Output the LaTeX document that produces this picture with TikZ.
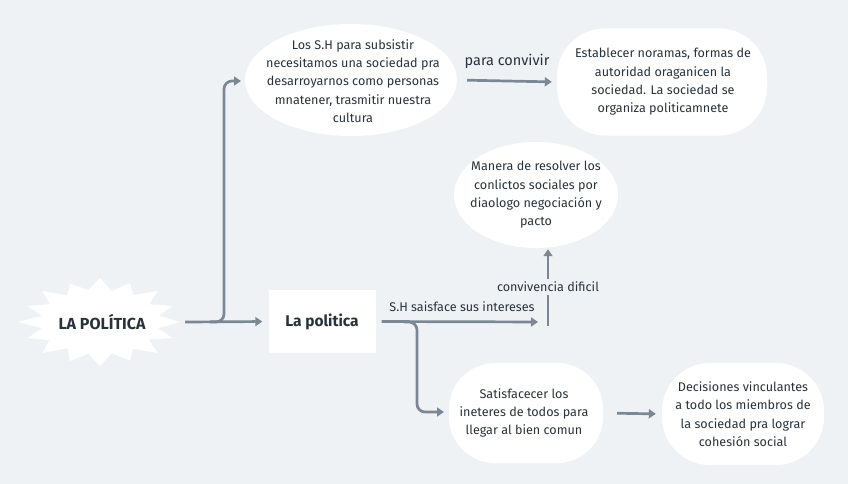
\documentclass[tikz,border=0pt]{standalone}
\usepackage{fontspec}
\setmainfont{Fira Sans}
\usetikzlibrary{arrows.meta,calc,shapes.geometric}
\definecolor{bg}{HTML}{EFF2F5}
\definecolor{ink}{HTML}{28323C}
\definecolor{arrc}{HTML}{7B8794}
\begin{document}
\begin{tikzpicture}[x=1pt,y=-1pt,
  arr/.style={draw=arrc, line width=2.7pt, -{Triangle[length=7pt,width=9pt]}},
  blob/.style={fill=white, ellipse, draw=none, inner sep=0pt},
  rblob/.style={fill=white, rectangle, draw=none, inner sep=0pt},
  txt/.style={text=ink, align=center, inner sep=0pt, font=\fontsize{12.6}{18.4}\selectfont},
  lab/.style={text=ink, inner sep=1pt, font=\fontsize{12.6}{14}\selectfont}]
\fill[bg] (0,0) rectangle (848,484);
\useasboundingbox (0,0) rectangle (848,484);

% starburst
\coordinate (c) at (100,322);
\fill[white] ($(c)+(0:80 and 43)$)
  \foreach \i/\r in {1/0.74,2/0.98,3/0.73,4/1.02,5/0.75,6/0.97,7/0.74,8/1.03,9/0.75,10/0.98,11/0.73,12/1.02,13/0.76,14/0.98,15/0.74,16/1.03,17/0.74,18/0.98,19/0.75,20/1.02,21/0.74,22/0.97,23/0.75,24/1.03,25/0.73,26/0.98,27/0.75,28/1.02,29/0.74,30/0.98,31/0.75}
  { -- ($(c)+({\i*360/32}:{\r*80} and {\r*43})$) } -- cycle;
\node[text=ink, font=\fontsize{16}{18}\selectfont\bfseries, minimum width=164pt, inner sep=0pt] (lp) at (102,322) {LA POLÍTICA};

% rectangle
\node[rblob, minimum width=107pt, minimum height=63pt] (rect) at (322,321.5) {};
\node[text=ink, font=\fontsize{15.5}{17}\selectfont\bfseries, inner sep=0pt] (rectt) at (rect) {La politica};

% ellipses
\node[blob, minimum width=212pt, minimum height=112pt] (tl) at (351,80) {};
\node[txt] (tlt) at (353,81) {Los S.H para subsistir\\necesitamos una sociedad pra\\desarroyarnos como personas\\mnatener, trasmitir nuestra\\cultura};

\node[rblob, rounded corners=48pt, minimum width=210pt, minimum height=107pt] (est) at (662,82) {};
\node[txt] (estt) at (663,82) {Establecer noramas, formas de\\autoridad oraganicen la\\sociedad. La sociedad se\\organiza politicamnete};

\node[blob, minimum width=164pt, minimum height=106pt] (man) at (536,195) {};
\node[txt] (mant) at (man) {Manera de resolver los\\conlictos sociales por\\diaologo negociación y\\pacto};

\node[rblob, rounded corners=46pt, minimum width=154pt, minimum height=100pt] (sat) at (526,413) {};
\node[txt] (satt) at (524,413) {Satisfacecer los\\ineteres de todos para\\llegar al bien comun};

\node[rblob, rounded corners=48pt, minimum width=162pt, minimum height=102pt] (dec) at (743,414) {};
\node[txt] (dect) at (dec) {Decisiones vinculantes\\a todo los miembros de\\la sociedad pra lograr\\cohesión social};

% connectors
\draw[arr, shorten <=1pt, shorten >=6pt] (lp.east) -- (rect.west);
\coordinate (b1) at (210,322);
\coordinate (t1) at (241,81);
\draw[arr, rounded corners=8pt] (b1) -| (224,81) -- (t1);

\draw[arr, shorten <=10pt, shorten >=5pt] (tl.east) -- node[lab, above=10pt, font=\fontsize{14.5}{16}\selectfont] (pcl) {para convivir} (est.west);

\coordinate (j) at (548,322);
\draw[arr, shorten <=6pt, shorten >=10pt] (rect.east) -- (j);
\node[lab, anchor=south] (shl) at (462,313) {S.H saisface sus intereses};
\coordinate (j2) at (548,326);
\draw[arr, shorten >=1pt] (j2) -- (j2 |- man.south);
\node[lab, fill=bg, inner sep=3pt] (cdl) at (548,287) {convivencia dificil};

\coordinate (b2) at (404,322);
\coordinate (s1) at (444,412);
\draw[arr, rounded corners=8pt] (b2) -| (417,412) -- (s1);

\draw[arr, shorten <=14pt, shorten >=6pt] (sat.east) -- (dec.west);
\end{tikzpicture}
\end{document}
